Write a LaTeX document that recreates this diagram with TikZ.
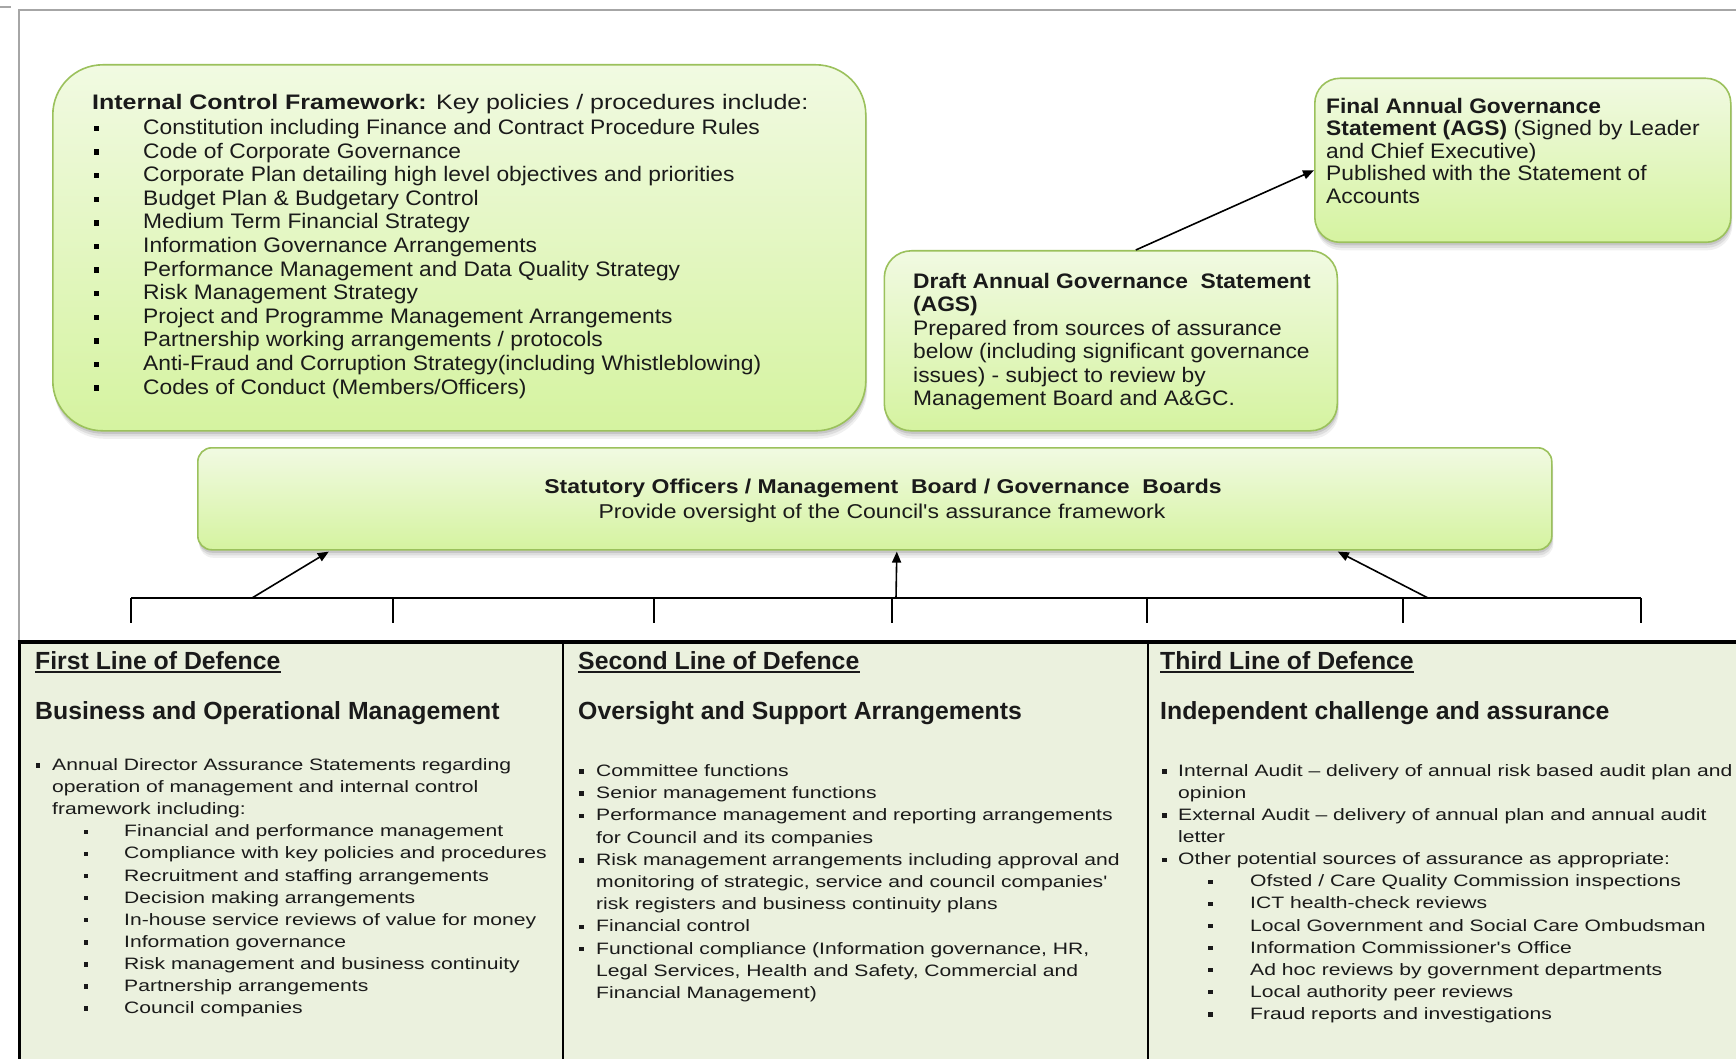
\documentclass[tikz,border=0pt]{standalone}
\usepackage{fontspec}
\setmainfont{Liberation Sans}
\newfontfamily\fTop[FakeStretch=1.085]{Liberation Sans}
\newfontfamily\fTitle[FakeStretch=1.19]{Liberation Sans}
\newfontfamily\fStat[FakeStretch=1.15]{Liberation Sans}
\newfontfamily\fBody[FakeStretch=1.28]{Liberation Sans}
\newfontfamily\fHead{Liberation Sans}
\usetikzlibrary{arrows.meta,calc}
\definecolor{boxtop}{HTML}{F1FAE2}
\definecolor{boxbot}{HTML}{D5F3A0}
\definecolor{boxline}{HTML}{9BC15C}
\definecolor{tblfill}{HTML}{EBF1DE}
\definecolor{framegray}{HTML}{A6A6A6}
\definecolor{txt}{HTML}{1A1A1A}
\begin{document}
\begin{tikzpicture}[x=1pt,y=-1pt,
  greenbox/.style={draw=boxline, line width=1.6pt, top color=boxtop, bottom color=boxbot,
    inner sep=0, anchor=north west, rounded corners=#1,
    preaction={fill=black,opacity=0.06,rounded corners=#1,transform canvas={xshift=1.5pt,yshift=-8pt}},
    preaction={fill=black,opacity=0.08,rounded corners=#1,transform canvas={xshift=1pt,yshift=-5.5pt}},
    preaction={fill=black,opacity=0.10,rounded corners=#1,transform canvas={xshift=0.5pt,yshift=-3pt}}},
  ictitle/.style={anchor=base west, inner sep=0, text=txt, font=\fTitle\fontsize{21pt}{24pt}\selectfont},
  topt/.style={anchor=base west, inner sep=0, text=txt, font=\fTop\fontsize{21pt}{24pt}\selectfont},
  topb/.style={topt, font=\fTop\bfseries\fontsize{21pt}{24pt}\selectfont},
  statt/.style={anchor=base, inner sep=0, text=txt, font=\fStat\fontsize{20pt}{24pt}\selectfont},
  headt/.style={anchor=base west, inner sep=0, text=txt, font=\fHead\bfseries\fontsize{24.8pt}{28pt}\selectfont},
  bodyt/.style={anchor=base west, inner sep=0, text=txt, font=\fBody\fontsize{16.5pt}{22pt}\selectfont},
  bulA/.style={rectangle, fill=black, inner sep=0, minimum size=5.5pt},
  bulB/.style={rectangle, fill=txt, inner sep=0, minimum size=4.5pt},
  conn/.style={line width=1.6pt, -{Triangle[length=11pt,width=9pt]}},
  tick/.style={line width=2pt}
]
\useasboundingbox (0,0) rectangle (1736,1059);
\clip (0,0) rectangle (1736,1059);
\fill[white] (0,0) rectangle (1736,1059);

% outer frame lines
\draw[framegray, line width=2.5pt] (19,642) -- (19,10) -- (1740,10);
\draw[framegray, line width=2pt] (0,7) -- (11,7);

% bottom table
\fill[tblfill] (19,642) rectangle (1745,1070);
\draw[line width=3pt] (19,1070) -- (19,642);
\draw[line width=3.5pt] (17.5,642) -- (1745,642);
\draw[line width=2.5pt] (563,642) -- (563,1070);
\draw[line width=2.5pt] (1148,642) -- (1148,1070);

% green boxes
\node[greenbox=50pt, minimum width=813pt, minimum height=366pt] (ic) at (52,64) {};
\node[greenbox=27pt, minimum width=453pt, minimum height=180pt] (draft) at (883.5,250) {};
\node[greenbox=25pt, minimum width=416pt, minimum height=164pt] (final) at (1314,77.5) {};
\node[greenbox=14pt, minimum width=1354pt, minimum height=102pt] (stat) at (197,447) {};

% Internal control framework text
\node[ictitle] (ic-t) at (92,110) {{\bfseries Internal Control Framework:} Key policies / procedures include:};
\node[topt] (ic-1) at (143,134.5) {Constitution including Finance and Contract Procedure Rules};
\node[topt] (ic-2) at (143,158.1) {Code of Corporate Governance};
\node[topt] (ic-3) at (143,181.7) {Corporate Plan detailing high level objectives and priorities};
\node[topt] (ic-4) at (143,205.3) {Budget Plan \& Budgetary Control};
\node[topt] (ic-5) at (143,228.9) {Medium Term Financial Strategy};
\node[topt] (ic-6) at (143,252.5) {Information Governance Arrangements};
\node[topt] (ic-7) at (143,276.1) {Performance Management and Data Quality Strategy};
\node[topt] (ic-8) at (143,299.7) {Risk Management Strategy};
\node[topt] (ic-9) at (143,323.3) {Project and Programme Management Arrangements};
\node[topt] (ic-10) at (143,346.9) {Partnership working arrangements / protocols};
\node[topt] (ic-11) at (143,370.5) {Anti-Fraud and Corruption Strategy(including Whistleblowing)};
\node[topt] (ic-12) at (143,394.1) {Codes of Conduct (Members/Officers)};
\node[bulA] (icb-1) at (96.3,128.5) {};
\node[bulA] (icb-2) at (96.3,152.1) {};
\node[bulA] (icb-3) at (96.3,175.7) {};
\node[bulA] (icb-4) at (96.3,199.3) {};
\node[bulA] (icb-5) at (96.3,222.9) {};
\node[bulA] (icb-6) at (96.3,246.5) {};
\node[bulA] (icb-7) at (96.3,270.1) {};
\node[bulA] (icb-8) at (96.3,293.7) {};
\node[bulA] (icb-9) at (96.3,317.3) {};
\node[bulA] (icb-10) at (96.3,340.9) {};
\node[bulA] (icb-11) at (96.3,364.5) {};
\node[bulA] (icb-12) at (96.3,388.1) {};

% Draft AGS text
\node[topb] (dr-1) at (913,288) {Draft Annual Governance\ \ Statement};
\node[topb] (dr-2) at (913,311.5) {(AGS)};
\node[topt] (dr-3) at (913,335) {Prepared from sources of assurance};
\node[topt] (dr-4) at (913,358.5) {below (including significant governance};
\node[topt] (dr-5) at (913,382) {issues) - subject to review by};
\node[topt] (dr-6) at (913,405.5) {Management Board and A\&GC.};

% Final AGS text
\node[topb] (fi-1) at (1326,113.5) {Final Annual Governance};
\node[topt] (fi-2) at (1326,136) {{\bfseries Statement (AGS)} (Signed by Leader};
\node[topt] (fi-3) at (1326,158.5) {and Chief Executive)};
\node[topt] (fi-4) at (1326,181) {Published with the Statement of};
\node[topt] (fi-5) at (1326,203.5) {Accounts};

% Statutory officers text
\node[statt, font=\fStat\bfseries\fontsize{20pt}{24pt}\selectfont] (st-1) at (883,493) {Statutory Officers / Management\ \ Board / Governance\ \ Boards};
\node[statt] (st-2) at (882,518) {Provide oversight of the Council's assurance framework};

% Connectors
\draw[conn] ([xshift=25pt]draft.north) -- ([yshift=-10pt]final.west);
\coordinate (brL) at (131,598);
\coordinate (brR) at (1641,598);
\draw[line width=2pt] (brL) -- (brR);
\foreach \xx [count=\k] in {131,393,654,892,1147,1403,1641}{
  \coordinate (tk-\k) at (\xx,598);
  \draw[tick] (tk-\k) -- ++(0,25);
}
\coordinate (a1) at (252,598);
\coordinate (a2) at (896,598);
\coordinate (a3) at (1428,598);
\draw[conn] (a1) -- ([xshift=-546pt,yshift=-1pt]stat.south);
\draw[conn] (a2) -- ([xshift=22pt,yshift=-1pt]stat.south);
\draw[conn] (a3) -- ([xshift=463pt,yshift=-1pt]stat.south);

% Table column 1
\node[headt] (h1) at (35,669) {First Line of Defence};
\draw[line width=1.6pt, txt] ([yshift=-3pt]h1.base west) -- ([yshift=-3pt]h1.base east);
\node[headt] (s1) at (35,719) {Business and Operational Management};
\node[bulB] (c1b-1) at (38,765.5) {};
\node[bodyt] (c1-1) at (52,770.5) {Annual Director Assurance Statements regarding};
\node[bodyt] (c1-2) at (52,792.6) {operation of management and internal control};
\node[bodyt] (c1-3) at (52,814.7) {framework including:};
\node[bodyt] (c1-4) at (124,836.8) {Financial and performance management};
\node[bodyt] (c1-5) at (124,858.9) {Compliance with key policies and procedures};
\node[bodyt] (c1-6) at (124,881) {Recruitment and staffing arrangements};
\node[bodyt] (c1-7) at (124,903.1) {Decision making arrangements};
\node[bodyt] (c1-8) at (124,925.2) {In-house service reviews of value for money};
\node[bodyt] (c1-9) at (124,947.3) {Information governance};
\node[bodyt] (c1-10) at (124,969.4) {Risk management and business continuity};
\node[bodyt] (c1-11) at (124,991.5) {Partnership arrangements};
\node[bodyt] (c1-12) at (124,1013.6) {Council companies};
\node[bulB] (c1b-4) at (86,831.8) {};
\node[bulB] (c1b-5) at (86,853.9) {};
\node[bulB] (c1b-6) at (86,876) {};
\node[bulB] (c1b-7) at (86,898.1) {};
\node[bulB] (c1b-8) at (86,920.2) {};
\node[bulB] (c1b-9) at (86,942.3) {};
\node[bulB] (c1b-10) at (86,964.4) {};
\node[bulB] (c1b-11) at (86,986.5) {};
\node[bulB] (c1b-12) at (86,1008.6) {};

% Table column 2
\node[headt] (h2) at (578,669) {Second Line of Defence};
\draw[line width=1.6pt, txt] ([yshift=-3pt]h2.base west) -- ([yshift=-3pt]h2.base east);
\node[headt] (s2) at (578,719) {Oversight and\ Support Arrangements};
\node[bodyt] (c2-1) at (596,776.5) {Committee functions};
\node[bodyt] (c2-2) at (596,798.7) {Senior management functions};
\node[bodyt] (c2-3) at (596,820.9) {Performance management and reporting arrangements};
\node[bodyt] (c2-4) at (596,843.1) {for Council and its companies};
\node[bodyt] (c2-5) at (596,865.3) {Risk management arrangements including approval and};
\node[bodyt] (c2-6) at (596,887.5) {monitoring of strategic, service and council companies'};
\node[bodyt] (c2-7) at (596,909.7) {risk registers and business continuity plans};
\node[bodyt] (c2-8) at (596,931.9) {Financial control};
\node[bodyt] (c2-9) at (596,954.1) {Functional compliance (Information governance, HR,};
\node[bodyt] (c2-10) at (596,976.3) {Legal Services, Health and Safety, Commercial and};
\node[bodyt] (c2-11) at (596,998.5) {Financial Management)};
\node[bulB] (c2b-1) at (581.5,771.5) {};
\node[bulB] (c2b-2) at (581.5,793.7) {};
\node[bulB] (c2b-3) at (581.5,815.9) {};
\node[bulB] (c2b-5) at (581.5,860.3) {};
\node[bulB] (c2b-8) at (581.5,926.9) {};
\node[bulB] (c2b-9) at (581.5,949.1) {};

% Table column 3
\node[headt] (h3) at (1160,669) {Third Line of Defence};
\draw[line width=1.6pt, txt] ([yshift=-3pt]h3.base west) -- ([yshift=-3pt]h3.base east);
\node[headt] (s3) at (1160,719) {Independent challenge and assurance};
\node[bodyt] (c3-1) at (1178,776.5) {Internal Audit – delivery of annual risk based audit plan and};
\node[bodyt] (c3-2) at (1178,798.6) {opinion};
\node[bodyt] (c3-3) at (1178,820.6) {External Audit – delivery of annual plan and annual audit};
\node[bodyt] (c3-4) at (1178,842.7) {letter};
\node[bodyt] (c3-5) at (1178,864.8) {Other potential sources of assurance as appropriate:};
\node[bodyt] (c3-6) at (1250,886.9) {Ofsted / Care Quality Commission inspections};
\node[bodyt] (c3-7) at (1250,908.9) {ICT health-check reviews};
\node[bodyt] (c3-8) at (1250,931) {Local Government and Social Care Ombudsman};
\node[bodyt] (c3-9) at (1250,953.1) {Information Commissioner's Office};
\node[bodyt] (c3-10) at (1250,975.1) {Ad hoc reviews by government departments};
\node[bodyt] (c3-11) at (1250,997.2) {Local authority peer reviews};
\node[bodyt] (c3-12) at (1250,1019.3) {Fraud reports and investigations};
\node[bulB] (c3b-1) at (1164.5,771.5) {};
\node[bulB] (c3b-3) at (1164.5,815.6) {};
\node[bulB] (c3b-5) at (1164.5,859.8) {};
\node[bulB] (c3b-6) at (1210.5,881.9) {};
\node[bulB] (c3b-7) at (1210.5,903.9) {};
\node[bulB] (c3b-8) at (1210.5,926) {};
\node[bulB] (c3b-9) at (1210.5,948.1) {};
\node[bulB] (c3b-10) at (1210.5,970.1) {};
\node[bulB] (c3b-11) at (1210.5,992.2) {};
\node[bulB] (c3b-12) at (1210.5,1014.3) {};
\end{tikzpicture}
\end{document}
